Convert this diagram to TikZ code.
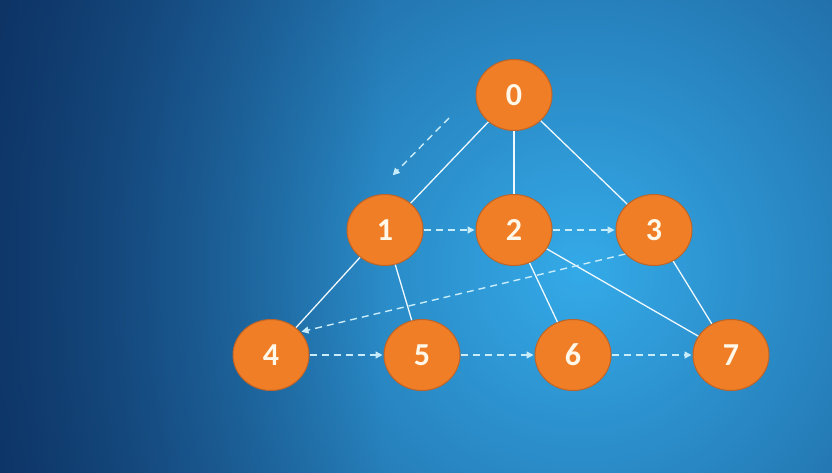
\documentclass[tikz,border=0pt]{standalone}
\usepackage{fontspec}
\setsansfont{Carlito}
\usepackage{tikz}
\usetikzlibrary{arrows.meta,shapes.geometric,fadings}
\definecolor{Navy}{RGB}{12,46,100}
\definecolor{Sky}{RGB}{52,170,232}
\definecolor{Orange}{RGB}{240,126,38}
\definecolor{Rim}{RGB}{190,100,40}
\definecolor{Dash}{RGB}{200,236,250}
\definecolor{Cream}{RGB}{255,247,232}
\tikzfading[name=fadeleft,left color=transparent!0,right color=transparent!100]
\tikzset{
  vertex/.style={ellipse,draw=Rim,line width=1pt,fill=Orange,minimum width=76pt,minimum height=71pt,inner sep=0pt,text=Cream,font=\sffamily\bfseries\fontsize{32}{32}\selectfont},
  edge/.style={draw=white!92!Sky,line width=1.3pt},
  visit/.style={-{Triangle[length=7pt,width=7pt]},draw=Dash,line width=1.4pt,dash pattern=on 7pt off 5pt,shorten >=1pt}
}

\begin{document}
\begin{tikzpicture}[x=1pt,y=-1pt]
\useasboundingbox (0,0) rectangle (832,473);
% background
\begin{scope}
\clip (0,0) rectangle (832,473);
\shade[inner color=Sky,outer color=Navy] (580,270) circle (800);
\fill[Navy!85!black,path fading=fadeleft,fill opacity=0.6] (0,0) rectangle (380,473);
\end{scope}
% vertices
\node[vertex] (v0) at (514,95) {0};
\node[vertex] (v1) at (385,230) {1};
\node[vertex] (v2) at (514,230) {2};
\node[vertex] (v3) at (654,230) {3};
\node[vertex] (v4) at (271,355) {4};
\node[vertex] (v5) at (422,355) {5};
\node[vertex] (v6) at (573,355) {6};
\node[vertex] (v7) at (731,355) {7};
% tree edges
\draw[edge] (v0)--(v1); \draw[edge] (v0)--(v2); \draw[edge] (v0)--(v3);
\draw[edge] (v1)--(v4); \draw[edge] (v1)--(v5);
\draw[edge] (v2)--(v6); \draw[edge] (v2)--(v7); \draw[edge] (v3)--(v7);
% visiting order
\coordinate (s) at (449,118);
\coordinate (t) at (392,176);
\draw[visit] (s)--(t);
\draw[visit] (v1)--(v2); \draw[visit] (v2)--(v3); \draw[visit] (v3.220)--(v4.38);
\draw[visit] (v4)--(v5); \draw[visit] (v5)--(v6); \draw[visit] (v6)--(v7);
\end{tikzpicture}
\end{document}
